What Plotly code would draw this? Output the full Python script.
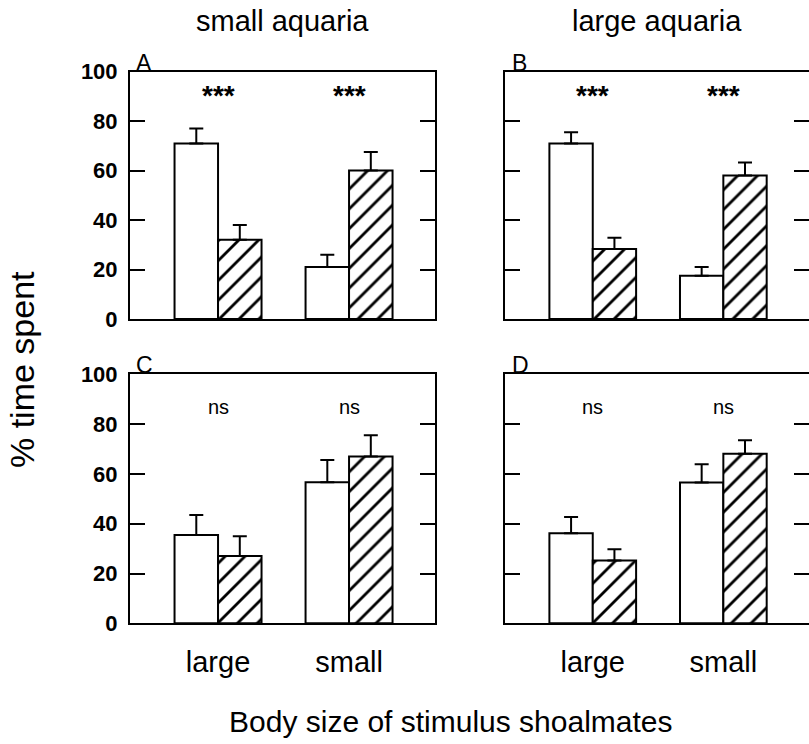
import plotly.graph_objects as go

groups = ["large", "small"]

a_white = [71, 21]
a_white_err = [6, 5]
a_hatch = [32, 60]
a_hatch_err = [6, 7.5]

b_white = [71, 17.5]
b_white_err = [4.5, 3.5]
b_hatch = [28.3, 58]
b_hatch_err = [4.6, 5.3]

c_white = [35.5, 56.6]
c_white_err = [8, 9]
c_hatch = [27, 67]
c_hatch_err = [8, 8.5]

d_white = [36.2, 56.5]
d_white_err = [6.5, 7.4]
d_hatch = [25.2, 68.1]
d_hatch_err = [4.5, 5.4]

sig_top = ["***", "***"]
sig_bottom = ["ns", "ns"]

panel_letters = ["A", "B", "C", "D"]
col_titles = ["small aquaria", "large aquaria"]
y_ticks = [0, 20, 40, 60, 80, 100]

W, H = 809, 744
FONT = "Liberation Sans, Arial, Helvetica, sans-serif"

fig = go.Figure()

panels = [
    (a_white, a_white_err, a_hatch, a_hatch_err, "x", "y"),
    (b_white, b_white_err, b_hatch, b_hatch_err, "x2", "y2"),
    (c_white, c_white_err, c_hatch, c_hatch_err, "x3", "y3"),
    (d_white, d_white_err, d_hatch, d_hatch_err, "x4", "y4"),
]

for wv, we, hv, he, xa, ya in panels:
    fig.add_trace(go.Bar(
        x=groups, y=wv, xaxis=xa, yaxis=ya, showlegend=False,
        marker=dict(color="white", line=dict(color="black", width=2)),
        error_y=dict(type="data", array=we, arrayminus=[0] * len(we), symmetric=False,
                     thickness=2, width=7, color="black"),
    ))
    fig.add_trace(go.Bar(
        x=groups, y=hv, xaxis=xa, yaxis=ya, showlegend=False,
        marker=dict(color="white", line=dict(color="black", width=2),
                    pattern=dict(shape="/", fgcolor="black", bgcolor="white",
                                 fgopacity=1, size=14, solidity=0.2)),
        error_y=dict(type="data", array=he, arrayminus=[0] * len(he), symmetric=False,
                     thickness=2, width=7, color="black"),
    ))

# domains (pixel-derived)
xdom_left = [130 / W, 435 / W]
xdom_right = [505 / W, 1.0]
ydom_top = [1 - 319 / H, 1 - 71.7 / H]
ydom_bot = [1 - 623.3 / H, 1 - 374.3 / H]

xr = [-0.672, 1.656]

def xaxis(dom, anchor, labels):
    return dict(domain=dom, anchor=anchor, range=xr, type="category",
                showline=True, linewidth=2, linecolor="black", mirror=True,
                ticks="", showticklabels=labels, showgrid=False, zeroline=False,
                tickfont=dict(family=FONT, size=29, color="black"),
                ticklabelstandoff=12, fixedrange=True, automargin=False)

def yaxis(dom, anchor, labels):
    return dict(domain=dom, anchor=anchor, range=[0, 100], tickvals=y_ticks,
                showline=True, linewidth=2, linecolor="black", mirror="ticks",
                ticks="inside", ticklen=15, tickwidth=2, tickcolor="black",
                showticklabels=labels, showgrid=False, zeroline=False,
                tickfont=dict(family=FONT, size=22, color="black", weight="bold"),
                ticklabelstandoff=6, fixedrange=True, automargin=False)

fig.update_layout(
    template="none",
    width=W, height=H,
    margin=dict(l=0, r=0, t=0, b=0, pad=0, autoexpand=False),
    paper_bgcolor="white", plot_bgcolor="white",
    showlegend=False,
    barmode="group", bargap=0.336, bargroupgap=0,
    xaxis=xaxis(xdom_left, "y", False),
    yaxis=yaxis(ydom_top, "x", True),
    xaxis2=xaxis(xdom_right, "y2", False),
    yaxis2=yaxis(ydom_top, "x2", False),
    xaxis3=xaxis(xdom_left, "y3", True),
    yaxis3=yaxis(ydom_bot, "x3", True),
    xaxis4=xaxis(xdom_right, "y4", True),
    yaxis4=yaxis(ydom_bot, "x4", False),
)

ann = []
# significance labels
for xa, ya, sig in [("x", "y", sig_top), ("x2", "y2", sig_top)]:
    for g, s in zip(groups, sig):
        ann.append(dict(x=g, y=91.5, xref=xa, yref=ya, text=s, showarrow=False,
                        font=dict(family=FONT, size=28, color="black", weight="bold"),
                        yanchor="middle", yshift=-3))
for xa, ya, sig in [("x3", "y3", sig_bottom), ("x4", "y4", sig_bottom)]:
    for g, s in zip(groups, sig):
        ann.append(dict(x=g, y=87, xref=xa, yref=ya, text=s, showarrow=False,
                        font=dict(family=FONT, size=20, color="black"),
                        yanchor="middle"))

# panel letters
letter_pos = [(134 / W, ydom_top[1]), (510 / W, ydom_top[1]),
              (134 / W, ydom_bot[1]), (510 / W, ydom_bot[1])]
for L, (px, py) in zip(panel_letters, letter_pos):
    ann.append(dict(x=px, y=py, xref="paper", yref="paper", text=L, showarrow=False,
                    xanchor="left", yanchor="bottom", yshift=-6,
                    font=dict(family=FONT, size=23, color="black")))

# column titles
for t, cx in zip(col_titles, [282 / W, 657 / W]):
    ann.append(dict(x=cx, y=1 - 21 / H, xref="paper", yref="paper", text=t,
                    showarrow=False, xanchor="center", yanchor="middle",
                    font=dict(family=FONT, size=29, color="black")))

# axis titles
ann.append(dict(x=451 / W, y=1 - 721 / H, xref="paper", yref="paper",
                text="Body size of stimulus shoalmates", showarrow=False,
                xanchor="center", yanchor="middle",
                font=dict(family=FONT, size=30, color="black")))
ann.append(dict(x=22 / W, y=1 - 370 / H, xref="paper", yref="paper",
                text="% time spent", showarrow=False, textangle=-90,
                xanchor="center", yanchor="middle",
                font=dict(family=FONT, size=34, color="black")))

fig.update_layout(annotations=ann)
fig.write_html("out.html",
               config={"displayModeBar": False, "staticPlot": True},
               post_script="document.body.style.margin='0px';document.body.style.overflow='hidden';")
